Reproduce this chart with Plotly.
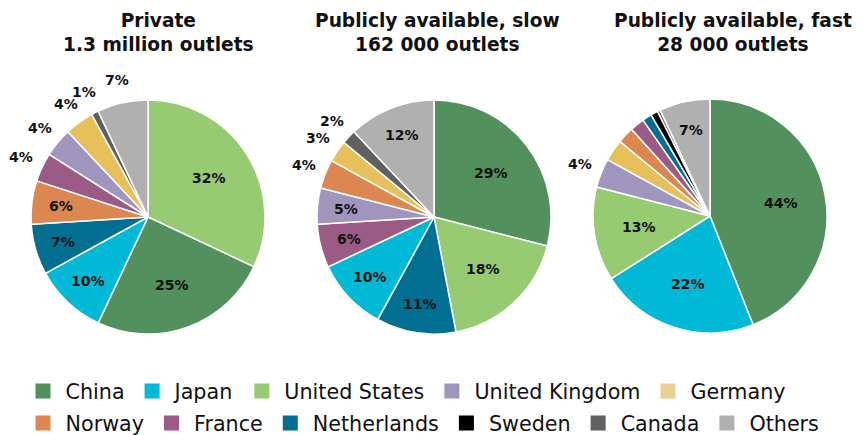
import math
import plotly.graph_objects as go

# ---- data ----
countries = ["China", "Japan", "United States", "United Kingdom", "Germany",
             "Norway", "France", "Netherlands", "Sweden", "Canada", "Others"]
legend_row = [1, 1, 1, 1, 1, 2, 2, 2, 2, 2, 2]

pie_colors = {"China": "#52905e", "Japan": "#00b9d7", "United States": "#96cb72",
              "United Kingdom": "#9f95bd", "Germany": "#e8c05a", "Norway": "#dc8650",
              "France": "#9b5b86", "Netherlands": "#006f91", "Sweden": "#000000",
              "Canada": "#606060", "Others": "#b0b0b0"}
legend_colors = dict(pie_colors, Germany="#eccf92")

titles = ["Private<br>1.3 million outlets",
          "Publicly available, slow<br>162 000 outlets",
          "Publicly available, fast<br>28 000 outlets"]

private_labels = ["United States", "China", "Japan", "Netherlands", "Norway",
                  "France", "United Kingdom", "Germany", "Canada", "Others"]
private_values = [32, 25, 10, 7, 6, 4, 4, 4, 1, 7]
private_text = ["32%", "25%", "10%", "7%", "6%", "4%", "4%", "4%", "1%", "7%"]
private_pos = ["inside"] * 5 + ["outside"] * 5

slow_labels = ["China", "United States", "Netherlands", "Japan", "France",
               "United Kingdom", "Norway", "Germany", "Canada", "Others"]
slow_values = [29, 18, 11, 10, 6, 5, 4, 3, 2, 12]
slow_text = ["29%", "18%", "11%", "10%", "6%", "5%", "4%", "3%", "2%", "12%"]
slow_pos = ["inside"] * 6 + ["outside"] * 3 + ["inside"]

fast_labels = ["China", "Japan", "United States", "United Kingdom", "Germany",
               "Norway", "France", "Netherlands", "Sweden", "Canada", "Others"]
fast_values = [44, 22, 13, 4, 3, 2.3, 2, 1.3, 1, 0.4, 7]
fast_text = ["44%", "22%", "13%", "4%", "", "", "", "", "", "", "7%"]
fast_pos = ["inside"] * 3 + ["outside"] + ["none"] * 6 + ["inside"]

# ---- layout constants ----
W, H = 861, 435
OFF = 8               # page body margin offset of the figure in the window
FONT = "DejaVu Sans"
TXT = "#111111"
R_PX = 117            # pie radius in px
OUT_DIST = 140        # outside-label distance from pie centre (px)
IN_DIST_SMALL = 88    # inside-label distance for small slices (px)
IN_DIST_LARGE = 72    # inside-label distance for large slices (px)
centers_px = [(148 - OFF, 217 - OFF), (434 - OFF, 217 - OFF), (710 - OFF, 216 - OFF)]
title_x_px = [158 - OFF, 437 - OFF, 733 - OFF]

fig = go.Figure()

pies = [(private_labels, private_values, private_text, private_pos),
        (slow_labels, slow_values, slow_text, slow_pos),
        (fast_labels, fast_values, fast_text, fast_pos)]

for (labels, values, text, pos), (cx, cy) in zip(pies, centers_px):
    xd = [(cx - R_PX) / W, (cx + R_PX) / W]
    yd = [1 - (cy + R_PX) / H, 1 - (cy - R_PX) / H]
    fig.add_trace(go.Pie(
        labels=labels, values=values, text=text, textinfo="none",
        sort=False, direction="clockwise", rotation=0,
        marker=dict(colors=[pie_colors[l] for l in labels],
                    line=dict(color="white", width=1.5)),
        domain=dict(x=xd, y=yd), showlegend=False, hoverinfo="label+percent",
    ))
    # percentage labels, placed radially at each slice's mid angle
    total = sum(values)
    cum = 0.0
    for v, t, p in zip(values, text, pos):
        share = v / total
        mid = (cum + v / 2) / total * 2 * math.pi
        cum += v
        if p == "none" or not t:
            continue
        if p == "outside":
            d = OUT_DIST
        else:
            d = IN_DIST_SMALL if share < 0.13 else IN_DIST_LARGE
        lx = cx + d * math.sin(mid)
        ly = cy - d * math.cos(mid)
        fig.add_annotation(text=t, x=lx / W, y=1 - ly / H, xref="paper", yref="paper",
                           xanchor="center", yanchor="middle", showarrow=False,
                           font=dict(family=FONT, size=14, color=TXT, weight="bold"))

for c, row in zip(countries, legend_row):
    fig.add_trace(go.Scatter(
        x=[None], y=[None], mode="markers", name=c,
        marker=dict(symbol="square", size=15, color=legend_colors[c]),
        legend="legend" if row == 1 else "legend2", showlegend=True,
    ))

for t, x in zip(titles, title_x_px):
    fig.add_annotation(text=t, x=x / W, y=1.0, xref="paper", yref="paper",
                       xanchor="center", yanchor="top", showarrow=False,
                       font=dict(family=FONT, size=18.6, color=TXT, weight="bold"))

legend_style = dict(orientation="h", xanchor="left", yanchor="middle",
                    font=dict(family=FONT, size=20.7, color=TXT),
                    bgcolor="rgba(0,0,0,0)", itemwidth=35, tracegroupgap=0)
fig.update_layout(
    width=W, height=H,
    margin=dict(l=0, r=0, t=0, b=0, autoexpand=False),
    paper_bgcolor="white", plot_bgcolor="white",
    xaxis=dict(visible=False), yaxis=dict(visible=False),
    legend=dict(x=(33 - 12.5 - OFF) / W, y=1 - (391 - OFF) / H, **legend_style),
    legend2=dict(x=(33 - 12.5 - OFF) / W, y=1 - (423 - OFF) / H, **legend_style),
)

fig.write_html("out.html")
